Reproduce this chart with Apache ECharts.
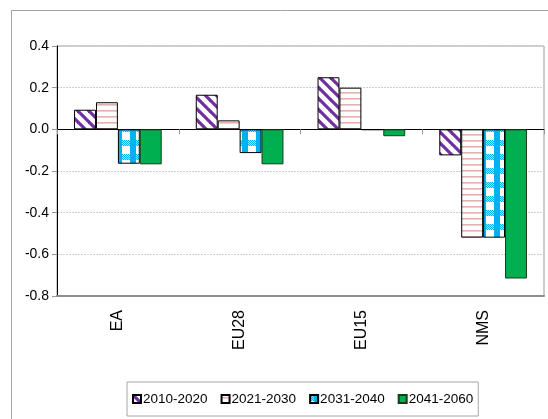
<!DOCTYPE html>
<html>
<head>
<meta charset="utf-8">
<script src="https://cdn.jsdelivr.net/npm/echarts@6/dist/echarts.min.js"></script>
<style>
html,body{margin:0;padding:0;background:#fff;}
#chart{width:548px;height:419px;}
</style>
</head>
<body>
<div id="chart"></div>
<script>
var categories = ['EA', 'EU28', 'EU15', 'NMS'];
var seriesNames = ['2010-2020', '2021-2030', '2031-2040', '2041-2060'];
var s2010_2020 = [0.094, 0.166, 0.25, -0.125];
var s2021_2030 = [0.13, 0.043, 0.2, -0.52];
var s2031_2040 = [-0.165, -0.114, -0.003, -0.52];
var s2041_2060 = [-0.168, -0.168, -0.033, -0.716];
var yTicks = [-0.8, -0.6, -0.4, -0.2, 0.0, 0.2, 0.4];

function makeTile(w, h, draw) {
  var c = document.createElement('canvas');
  c.width = w; c.height = h;
  var ctx = c.getContext('2d');
  ctx.fillStyle = '#ffffff';
  ctx.fillRect(0, 0, w, h);
  draw(ctx, w, h);
  return c;
}
var diagTile = makeTile(11, 11, function (ctx, w, h) {
  ctx.strokeStyle = '#7030A0';
  ctx.lineWidth = 3.2;
  for (var k = -1; k <= 1; k++) {
    ctx.beginPath();
    ctx.moveTo(k * w - 1, -1);
    ctx.lineTo(k * w + w + 1, h + 1);
    ctx.stroke();
  }
});
var hTile = makeTile(4, 6, function (ctx, w, h) {
  ctx.fillStyle = '#E7AFAF';
  ctx.fillRect(0, 2, w, 1.6);
});
var checkTile = makeTile(14, 14, function (ctx, w, h) {
  for (var y = 0; y < 6; y++) {
    for (var x = 0; x < w; x++) {
      ctx.fillStyle = ((x + y) % 2 === 0) ? '#00B0F0' : '#A6E2F9';
      ctx.fillRect(x, y, 1, 1);
    }
  }
  ctx.fillStyle = '#00B0F0';
  ctx.fillRect(4, 0, 6, h);
});

function patt(tile) { return { image: tile, repeat: 'repeat' }; }

var colors = [patt(diagTile), patt(hTile), patt(checkTile), '#00B050'];
var dataArr = [s2010_2020, s2021_2030, s2031_2040, s2041_2060];

var series = seriesNames.map(function (n, i) {
  return {
    name: n,
    type: 'bar',
    xAxisIndex: 0,
    data: dataArr[i],
    barGap: '0%',
    barCategoryGap: '28%',
    itemStyle: { color: colors[i], borderColor: i === 3 ? '#1a3a1a' : '#000', borderWidth: 1 }
  };
});

var chart = echarts.init(document.getElementById('chart'), null, { renderer: 'canvas' });
chart.setOption({
  animation: false,
  backgroundColor: '#fff',
  graphic: [{
    type: 'rect', shape: { x: 11.5, y: 10.5, width: 600, height: 500 },
    style: { fill: 'none', stroke: '#a6a6a6', lineWidth: 1 }, z: -10
  }],
  grid: { left: 57, right: 4, top: 46, bottom: 123, show: true, borderColor: '#9a9a9a', borderWidth: 1 },
  legend: {
    data: seriesNames,
    left: 127, top: 382,
    orient: 'horizontal',
    itemWidth: 8, itemHeight: 8, itemGap: 13,
    padding: [10, 5, 10, 5],
    borderColor: '#a6a6a6', borderWidth: 1,
    icon: 'rect',
    textStyle: { fontFamily: 'Liberation Sans, Arial', fontSize: 13.5, color: '#000', padding: [0, 0, 0, -3] }
  },
  xAxis: [{
    type: 'category', data: categories, position: 'bottom',
    axisLine: { onZero: true, lineStyle: { color: '#000', width: 1 } },
    axisTick: { show: true, length: 5, lineStyle: { color: '#999' } },
    axisLabel: { show: false }
  }, {
    type: 'category', data: categories, position: 'bottom',
    axisLine: { onZero: false, lineStyle: { color: '#8c8c8c', width: 2 } },
    axisTick: { show: false },
    axisLabel: { rotate: 90, margin: 14, fontFamily: 'Liberation Sans, Arial', fontSize: 16, color: '#000' }
  }],
  yAxis: {
    type: 'value', min: yTicks[0], max: yTicks[yTicks.length - 1], interval: 0.2,
    axisLine: { show: true, lineStyle: { color: '#000', width: 1 } },
    axisTick: { show: true, length: 5, lineStyle: { color: '#999' } },
    axisLabel: {
      margin: 8, fontFamily: 'Liberation Sans, Arial', fontSize: 14, color: '#000',
      formatter: function (v) { return v.toFixed(1); }
    },
    splitLine: { show: true, lineStyle: { color: '#cfcfcf', type: [2, 1], width: 1 } }
  },
  series: series
});
</script>
</body>
</html>
